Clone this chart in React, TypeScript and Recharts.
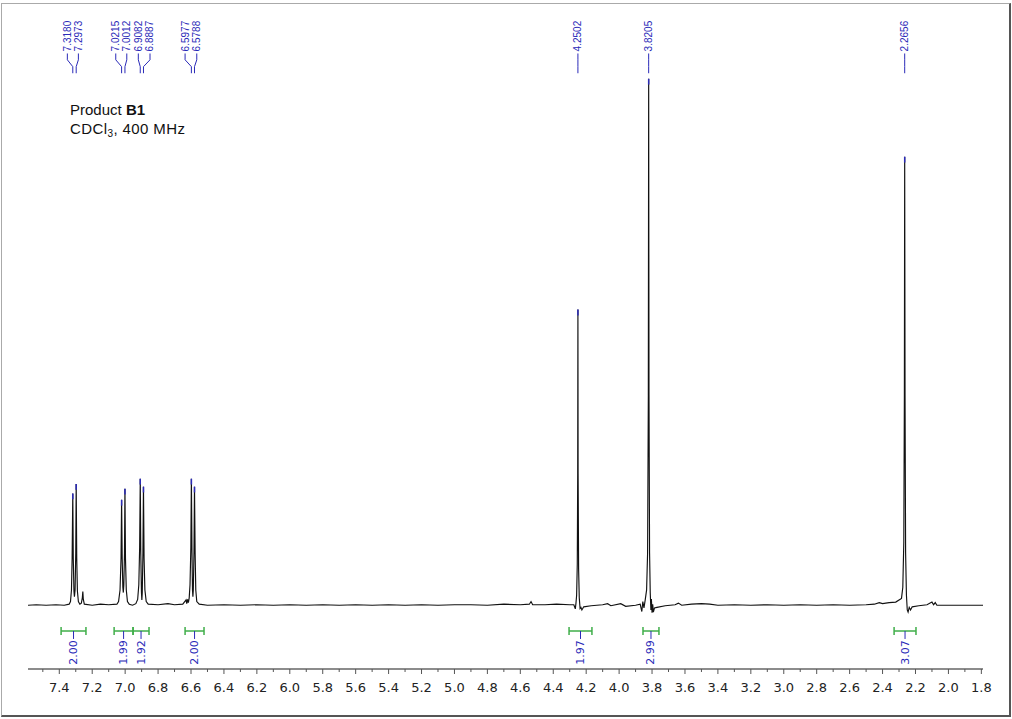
import { LineChart, Line, XAxis, YAxis, ReferenceLine, ReferenceDot } from "recharts";

// 1H trace: [ppm, intensity], tallest peak = 100
const spectrum: [number, number][] = [
  [7.59, 0.1], [7.54, 0.2], [7.48, 0.1], [7.42, 0.2], [7.37, 0.1], [7.34, 0.3],
  [7.332, 0.8], [7.326, 3], [7.322, 9], [7.318, 21.3], [7.315, 9], [7.311, 2.8],
  [7.308, 1.7], [7.304, 3], [7.3, 10], [7.2973, 23.1], [7.294, 9], [7.29, 2.8],
  [7.284, 0.8], [7.275, 0.3], [7.266, 0.5], [7.26, 1.5], [7.257, 2.7], [7.254, 1.2],
  [7.248, 0.3], [7.2, 0.1], [7.15, 0.3], [7.1, 0.2], [7.05, 0.3], [7.04, 0.8],
  [7.031, 3], [7.025, 9], [7.0215, 20.1], [7.018, 9], [7.014, 3.5], [7.011, 2.5],
  [7.008, 4], [7.004, 10], [7.0012, 22.2], [6.998, 9], [6.993, 3], [6.986, 0.8],
  [6.975, 0.3], [6.955, 0.1], [6.935, 0.4], [6.924, 1.2], [6.917, 4], [6.912, 11],
  [6.9082, 24.1], [6.905, 10], [6.901, 2.5], [6.8985, 1.1], [6.896, 2.5], [6.892, 10],
  [6.8887, 22.6], [6.885, 9], [6.88, 3], [6.872, 0.8], [6.86, 0.3], [6.8, 0.2],
  [6.74, 0.4], [6.7, 0.2], [6.65, 0.3], [6.63, 1.1], [6.626, 0.4], [6.621, 1.2],
  [6.616, 0.6], [6.611, 1.5], [6.606, 4], [6.601, 11], [6.5977, 24.1], [6.594, 10],
  [6.591, 3], [6.5885, 1.7], [6.586, 3], [6.582, 10], [6.5788, 22.6], [6.575, 10],
  [6.571, 3], [6.565, 0.8], [6.55, 0.3], [6.5, 0.1], [6.4, 0.2], [6.3, 0.1],
  [6.2, 0.2], [6.1, 0.1], [6.0, 0.2], [5.9, 0.1], [5.8, 0.2], [5.7, 0.1],
  [5.6, 0.2], [5.5, 0.1], [5.4, 0.2], [5.3, 0.1], [5.2, 0.2], [5.1, 0.1],
  [5.0, 0.2], [4.9, 0.2], [4.8, 0.1], [4.7, 0.3], [4.6, 0.2], [4.545, 0.3],
  [4.535, 0.8], [4.525, 0.2], [4.45, 0.2], [4.38, 0.3], [4.3, 0.2], [4.275, 0.2],
  [4.266, -0.6], [4.262, 0.5], [4.258, 2], [4.254, 8], [4.2515, 25], [4.2502, 56.2],
  [4.249, 25], [4.246, 7], [4.242, 1.5], [4.237, -0.5], [4.232, -0.3], [4.226, -0.8],
  [4.215, -0.2], [4.17, 0], [4.1, 0.2], [4.07, 0.4], [4.05, 0], [3.99, 0.4],
  [3.96, -0.1], [3.9, 0.1], [3.872, 0.3], [3.862, -1.1], [3.856, 0.8], [3.849, -0.4],
  [3.841, 1.2], [3.833, 3], [3.827, 10], [3.8225, 40], [3.8205, 100], [3.8185, 40],
  [3.815, 10], [3.811, 2.5], [3.807, -0.8], [3.804, 1.3], [3.8, -1.3], [3.796, 0.3],
  [3.792, -1.2], [3.785, -0.4], [3.77, -0.3], [3.72, 0], [3.66, 0.2], [3.64, 0.5],
  [3.62, 0.1], [3.56, 0.3], [3.5, 0.4], [3.45, 0.3], [3.4, 0.1], [3.3, 0.2],
  [3.2, 0.1], [3.1, 0.2], [3.0, 0.1], [2.9, 0.2], [2.8, 0.1], [2.7, 0.2],
  [2.6, 0.1], [2.5, 0.2], [2.45, 0.3], [2.42, 0.6], [2.4, 0.4], [2.36, 0.6],
  [2.32, 0.7], [2.295, 1.2], [2.285, 1.4], [2.277, 3.5], [2.271, 12], [2.2675, 40],
  [2.2656, 85.2], [2.2635, 40], [2.26, 10], [2.255, 2], [2.25, -0.8], [2.245, -1.2],
  [2.238, -0.3], [2.23, -0.8], [2.22, -0.2], [2.18, 0], [2.13, 0.2], [2.1, 0.7],
  [2.09, 0.2], [2.08, 0.6], [2.07, 0.1], [2.0, 0.1], [1.9, 0.1], [1.79, 0.1],
];

const peakShifts = [7.318, 7.2973, 7.0215, 7.0012, 6.9082, 6.8887, 6.5977, 6.5788, 4.2502, 3.8205, 2.2656];
const peakHeights = [21.3, 23.1, 20.1, 22.2, 24.1, 22.6, 24.1, 22.6, 56.2, 100, 85.2];
// where each rotated shift label sits (spread out over multiplets)
const peakLabelAt = [7.351, 7.284, 7.057, 6.99, 6.92, 6.849, 6.636, 6.565, 4.2502, 3.8205, 2.2656];

const integralFrom = [7.389, 7.067, 6.952, 6.636, 4.304, 3.855, 2.33];
const integralTo = [7.238, 6.952, 6.855, 6.521, 4.165, 3.758, 2.197];
const integralValues = ["2.00", "1.99", "1.92", "2.00", "1.97", "2.99", "3.07"];

const majorTicks = [7.4, 7.2, 7.0, 6.8, 6.6, 6.4, 6.2, 6.0, 5.8, 5.6, 5.4, 5.2, 5.0, 4.8, 4.6, 4.4, 4.2, 4.0, 3.8, 3.6, 3.4, 3.2, 3.0, 2.8, 2.6, 2.4, 2.2, 2.0, 1.8];
const minorTicks = [7.5, 7.3, 7.1, 6.9, 6.7, 6.5, 6.3, 6.1, 5.9, 5.7, 5.5, 5.3, 5.1, 4.9, 4.7, 4.5, 4.3, 4.1, 3.9, 3.7, 3.5, 3.3, 3.1, 2.9, 2.7, 2.5, 2.3, 2.1, 1.9];

const data = spectrum.map(([ppm, v]) => ({ ppm, v }));

const BLUE = "#2a2ab8";
const GREEN = "#3fae49";

function AxisTick({ x, y, payload }: any) {
  const major = majorTicks.includes(payload.value);
  return (
    <g>
      <line x1={x} x2={x} y1={y} y2={y + (major ? 5 : 3)} stroke="#555" />
      {major && (
        <text x={x} y={y + 23} textAnchor="middle" fontSize={13} fill="#222" fontFamily="DejaVu Sans">
          {payload.value.toFixed(1)}
        </text>
      )}
    </g>
  );
}

const rotated = (label: string, anchor: "start" | "end", size: number, family: string) => (s: any) => (
  <text
    x={s.cx}
    y={s.cy}
    transform={`rotate(-90 ${s.cx} ${s.cy})`}
    textAnchor={anchor}
    dominantBaseline="central"
    fontSize={size}
    fontFamily={family}
    fill={BLUE}
  >
    {label}
  </text>
);

export default function App() {
  return (
    <div style={{ position: "absolute", left: 0, top: 0, width: 1012, height: 719, background: "#fff" }}>
      <div
        style={{
          position: "absolute",
          left: 1,
          top: 3,
          width: 1007,
          height: 711,
          borderLeft: "1px solid #aaa",
          borderTop: "1px solid #aaa",
          borderRight: "2px solid #555",
          borderBottom: "2px solid #555",
        }}
      />
      <LineChart width={1012} height={719} data={data} margin={{ top: 5, right: 29, bottom: 20, left: 28 }}>
        <XAxis
          dataKey="ppm"
          type="number"
          domain={[1.79, 7.59]}
          reversed
          allowDataOverflow
          ticks={[...majorTicks, ...minorTicks]}
          interval={0}
          tickSize={0}
          tickMargin={0}
          tickLine={false}
          axisLine={{ stroke: "#666", strokeWidth: 1.5 }}
          tick={<AxisTick />}
          height={30}
        />
        <YAxis hide type="number" domain={[-12, 114]} allowDataOverflow />
        <Line
          dataKey="v"
          type="linear"
          dot={false}
          stroke="#111"
          strokeWidth={1.15}
          isAnimationActive={false}
        />
        {peakShifts.map((p, i) => (
          <ReferenceLine
            key={`tip${i}`}
            segment={[{ x: p, y: peakHeights[i] }, { x: p, y: peakHeights[i] - 1.1 }]}
            stroke={BLUE}
            strokeWidth={1.5}
            ifOverflow="visible"
          />
        ))}
        {peakShifts.map((p, i) => (
          <ReferenceLine
            key={`c1${i}`}
            segment={[{ x: peakLabelAt[i], y: 104.8 }, { x: peakLabelAt[i], y: 103.6 }]}
            stroke={BLUE}
            ifOverflow="visible"
          />
        ))}
        {peakShifts.map((p, i) => (
          <ReferenceLine
            key={`c2${i}`}
            segment={[{ x: peakLabelAt[i], y: 103.6 }, { x: p, y: 102.3 }]}
            stroke={BLUE}
            ifOverflow="visible"
          />
        ))}
        {peakShifts.map((p, i) => (
          <ReferenceLine
            key={`c3${i}`}
            segment={[{ x: p, y: 102.3 }, { x: p, y: 101.05 }]}
            stroke={BLUE}
            ifOverflow="visible"
          />
        ))}
        {peakShifts.map((p, i) => (
          <ReferenceDot
            key={`pl${i}`}
            x={peakLabelAt[i]}
            y={105.2}
            r={0}
            ifOverflow="visible"
            shape={rotated(p.toFixed(4), "start", 10, "Liberation Sans Narrow, Liberation Sans, sans-serif")}
          />
        ))}
        {integralFrom.map((a, i) => (
          <ReferenceLine
            key={`ib${i}`}
            segment={[{ x: a, y: -4.79 }, { x: integralTo[i], y: -4.79 }]}
            stroke={GREEN}
            strokeWidth={1.5}
            ifOverflow="visible"
          />
        ))}
        {integralFrom.map((a, i) => (
          <ReferenceLine
            key={`il${i}`}
            segment={[{ x: a, y: -4.05 }, { x: a, y: -5.55 }]}
            stroke={GREEN}
            strokeWidth={1.5}
            ifOverflow="visible"
          />
        ))}
        {integralTo.map((b, i) => (
          <ReferenceLine
            key={`ir${i}`}
            segment={[{ x: b, y: -4.05 }, { x: b, y: -5.55 }]}
            stroke={GREEN}
            strokeWidth={1.5}
            ifOverflow="visible"
          />
        ))}
        {integralFrom.map((a, i) => (
          <ReferenceLine
            key={`id${i}`}
            segment={[{ x: (a + integralTo[i]) / 2, y: -4.79 }, { x: (a + integralTo[i]) / 2, y: -6.3 }]}
            stroke={BLUE}
            ifOverflow="visible"
          />
        ))}
        {integralFrom.map((a, i) => (
          <ReferenceDot
            key={`iv${i}`}
            x={(a + integralTo[i]) / 2}
            y={-6.55}
            r={0}
            ifOverflow="visible"
            shape={rotated(integralValues[i], "end", 11, "DejaVu Sans, sans-serif")}
          />
        ))}
      </LineChart>
      <div
        style={{
          position: "absolute",
          left: 70,
          top: 100,
          fontFamily: "Liberation Sans, Arial, sans-serif",
          fontSize: 15,
          lineHeight: "19px",
          color: "#111",
          whiteSpace: "nowrap",
        }}
      >
        <div>
          Product <b>B1</b>
        </div>
        <div style={{ letterSpacing: 0.4 }}>
          CDCl<span style={{ fontSize: 10, position: "relative", top: 3 }}>3</span>, 400 MHz
        </div>
      </div>
    </div>
  );
}
